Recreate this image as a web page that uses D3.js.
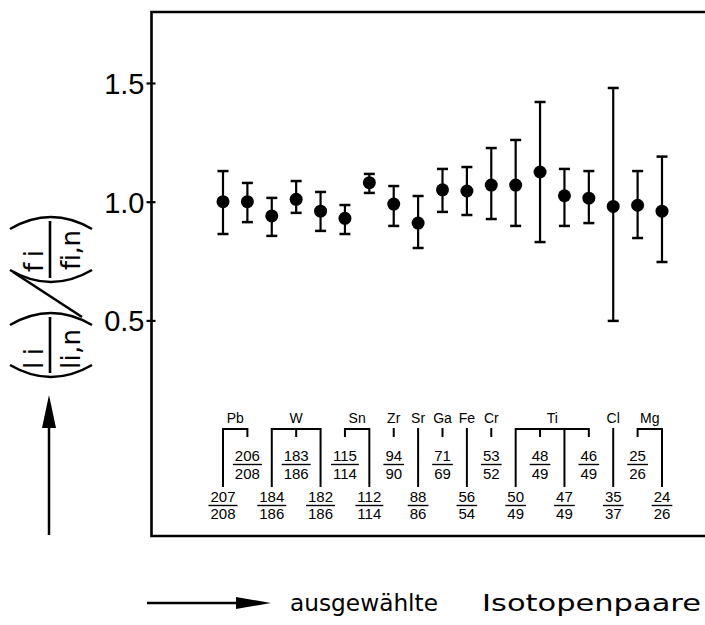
<!DOCTYPE html>
<html>
<head>
<meta charset="utf-8">
<script src="https://cdn.jsdelivr.net/npm/d3@7"></script>
<style>
  html, body { margin: 0; padding: 0; background: #fff; }
  svg { display: block; }
</style>
</head>
<body>
<svg id="chart" width="705" height="625"></svg>
<script>
// isotope pairs, left to right
var pairs = ["207/208", "206/208", "184/186", "183/186", "182/186", "115/114", "112/114",
  "94/90", "88/86", "71/69", "56/54", "53/52", "50/49", "48/49", "47/49", "46/49",
  "35/37", "25/26", "24/26"];
var ratio   = [1.00, 1.00, 0.94, 1.01, 0.96, 0.93, 1.08, 0.99, 0.91, 1.05, 1.045, 1.07, 1.07, 1.125, 1.025, 1.015, 0.98, 0.985, 0.96];
var errLow  = [0.864, 0.914, 0.856, 0.953, 0.877, 0.864, 1.037, 0.898, 0.805, 0.957, 0.944, 0.927, 0.898, 0.83, 0.898, 0.91, 0.498, 0.847, 0.746];
var errHigh = [1.129, 1.079, 1.016, 1.087, 1.041, 0.986, 1.117, 1.066, 1.024, 1.138, 1.146, 1.226, 1.26, 1.42, 1.138, 1.129, 1.479, 1.129, 1.19];
var yTicks = [0.5, 1.0, 1.5];

// element groups and the pairs that belong to them
var elements = ["Pb", "W", "Sn", "Zr", "Sr", "Ga", "Fe", "Cr", "Ti", "Cl", "Mg"];
var elementPairs = [
  ["207/208", "206/208"], ["184/186", "183/186", "182/186"], ["115/114", "112/114"],
  ["94/90"], ["88/86"], ["71/69"], ["56/54"], ["53/52"],
  ["50/49", "48/49", "47/49", "46/49"], ["35/37"], ["25/26", "24/26"]];

var svg = d3.select("#chart");
var plotLeft = 151.5, plotTop = 12, plotBottom = 536;

var x = d3.scalePoint().domain(pairs).range([223, 662]);
var y = d3.scaleLinear().domain([-0.408, 1.799]).range([plotBottom, plotTop]);

// frame (open on the right, cut by the picture)
svg.append("path")
  .attr("d", "M720," + plotTop + "H" + plotLeft + "V" + plotBottom + "H720")
  .attr("fill", "none").attr("stroke", "#000").attr("stroke-width", 2.6);

// y axis ticks
var yAxis = svg.append("g")
  .attr("transform", "translate(" + plotLeft + ",0)")
  .call(d3.axisLeft(y).tickValues(yTicks).tickFormat(d3.format(".1f")).tickSize(5));
yAxis.select(".domain").remove();
yAxis.selectAll("line").attr("x1", 4).attr("stroke", "#000").attr("stroke-width", 2.2);
yAxis.selectAll("text")
  .attr("x", -7).attr("dy", "0.36em")
  .style("font-family", "'Liberation Sans', Arial, sans-serif")
  .style("font-size", "29px").attr("fill", "#000");

// error bars + points
var pts = svg.append("g").selectAll("g")
  .data(pairs.map(function (p, i) { return {k: p, v: ratio[i], lo: errLow[i], hi: errHigh[i]}; }))
  .enter().append("g");

pts.append("line")
  .attr("x1", d => x(d.k)).attr("x2", d => x(d.k))
  .attr("y1", d => y(d.lo)).attr("y2", d => y(d.hi))
  .attr("stroke", "#000").attr("stroke-width", 2.2);
pts.selectAll(".cap")
  .data(d => [{k: d.k, v: d.lo}, {k: d.k, v: d.hi}])
  .enter().append("line")
  .attr("class", "cap")
  .attr("x1", d => x(d.k) - 5.5).attr("x2", d => x(d.k) + 5.5)
  .attr("y1", d => y(d.v)).attr("y2", d => y(d.v))
  .attr("stroke", "#000").attr("stroke-width", 2.5);
pts.append("circle")
  .attr("cx", d => x(d.k)).attr("cy", d => y(d.v))
  .attr("r", 6.5).attr("fill", "#000");

// isotope pair labels as fractions, two staggered rows
var rowY = {upper: {num: 461, line: 464.5, den: 479}, lower: {num: 502, line: 505.5, den: 519}};
var fracFont = "'Liberation Sans', Arial, sans-serif";
var frac = svg.append("g").selectAll("g")
  .data(pairs.map(function (p, i) { return {k: p, row: i % 2 ? "upper" : "lower"}; }))
  .enter().append("g");
frac.append("text")
  .attr("x", d => x(d.k)).attr("y", d => rowY[d.row].num)
  .attr("text-anchor", "middle")
  .style("font-family", fracFont).style("font-size", "15px")
  .text(d => d.k.split("/")[0]);
frac.append("text")
  .attr("x", d => x(d.k)).attr("y", d => rowY[d.row].den)
  .attr("text-anchor", "middle")
  .style("font-family", fracFont).style("font-size", "15px")
  .text(d => d.k.split("/")[1]);
frac.each(function (d) {
  var w = 0;
  d3.select(this).selectAll("text").each(function () { w = Math.max(w, this.getComputedTextLength()); });
  d3.select(this).append("line")
    .attr("x1", x(d.k) - w / 2 - 2).attr("x2", x(d.k) + w / 2 + 2)
    .attr("y1", rowY[d.row].line).attr("y2", rowY[d.row].line)
    .attr("stroke", "#000").attr("stroke-width", 1.4);
});

// element names and brackets
var brTop = 429, shortEnd = 437, longEnd = 487;
var el = svg.append("g").selectAll("g")
  .data(elements.map(function (e, i) { return {name: e, members: elementPairs[i]}; }))
  .enter().append("g");
el.append("text")
  .attr("x", d => (x(d.members[0]) + x(d.members[d.members.length - 1])) / 2)
  .attr("y", 423)
  .attr("text-anchor", "middle")
  .style("font-family", fracFont).style("font-size", "14px")
  .text(d => d.name);
el.each(function (d) {
  var g = d3.select(this);
  if (d.members.length > 1) {
    g.append("line")
      .attr("x1", x(d.members[0])).attr("x2", x(d.members[d.members.length - 1]))
      .attr("y1", brTop).attr("y2", brTop)
      .attr("stroke", "#000").attr("stroke-width", 2);
  }
  d.members.forEach(function (m) {
    var upper = pairs.indexOf(m) % 2 === 1;
    g.append("line")
      .attr("x1", x(m)).attr("x2", x(m))
      .attr("y1", brTop - 1).attr("y2", upper ? shortEnd : longEnd)
      .attr("stroke", "#000").attr("stroke-width", 2);
  });
});

// y label: (li/li,n) / (fi/fi,n), read bottom to top
var lab = svg.append("g").attr("transform", "translate(51,297) rotate(-90)");
var labFont = "'DejaVu Sans', sans-serif";
var parens = ["M-68,-41Q-92,0,-68,41", "M-28,-41Q-4,0,-28,41",
  "M27,-41Q3,0,27,41", "M68,-41Q92,0,68,41",
  "M-76,-1H-20", "M19,-1H76", "M25,-38L-20,31"];
lab.selectAll("path").data(parens).enter().append("path")
  .attr("d", d => d).attr("fill", "none")
  .attr("stroke", "#000").attr("stroke-width", 2.6);
var labTexts = [
  {t: "li", u: -72, v: -8, len: 21},
  {t: "li,n", u: -72, v: 29, len: 40},
  {t: "fi", u: 25, v: -8, len: 22},
  {t: "fi,n", u: 27, v: 29, len: 40}];
lab.selectAll("text").data(labTexts).enter().append("text")
  .attr("x", d => d.u).attr("y", d => d.v)
  .attr("textLength", d => d.len).attr("lengthAdjust", "spacing")
  .style("font-family", labFont).style("font-size", "26px")
  .style("font-variant-ligatures", "none")
  .text(d => d.t);

// up arrow under y label
svg.append("line").attr("x1", 49).attr("x2", 49).attr("y1", 535).attr("y2", 420)
  .attr("stroke", "#000").attr("stroke-width", 2.5);
svg.append("path").attr("d", "M49,395L42,428L56,428Z").attr("fill", "#000");

// x label with arrow
svg.append("line").attr("x1", 147).attr("x2", 245).attr("y1", 603).attr("y2", 603)
  .attr("stroke", "#000").attr("stroke-width", 2.5);
svg.append("path").attr("d", "M271,603L236,597L236,609Z").attr("fill", "#000");
svg.append("text").attr("x", 290).attr("y", 611)
  .attr("textLength", 148).attr("lengthAdjust", "spacingAndGlyphs")
  .style("font-family", labFont).style("font-size", "23px")
  .text("ausgewählte");
svg.append("text").attr("x", 482).attr("y", 611)
  .attr("textLength", 219).attr("lengthAdjust", "spacingAndGlyphs")
  .style("font-family", labFont).style("font-size", "23px")
  .text("Isotopenpaare");
</script>
</body>
</html>
